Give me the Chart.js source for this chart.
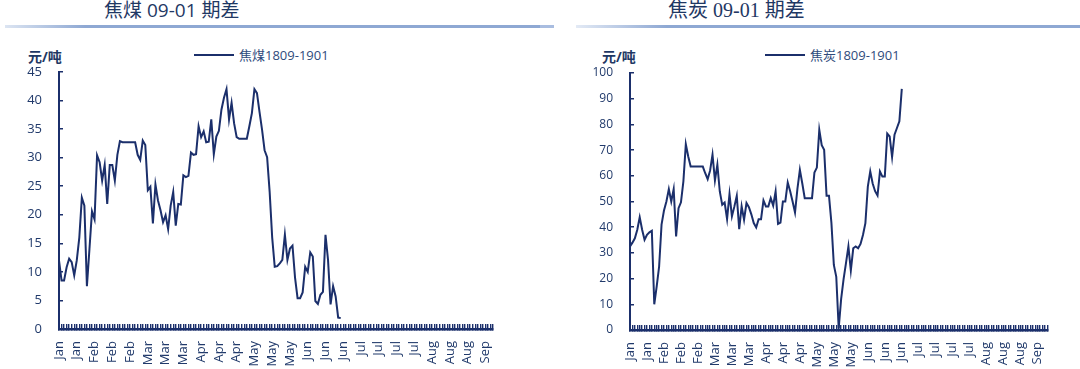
<!DOCTYPE html>
<html>
<head>
<meta charset="utf-8">
<script src="https://cdn.jsdelivr.net/npm/chart.js@4.4.1/dist/chart.umd.min.js"></script>
<style>
  body { margin: 0; background: #fff; width: 1080px; height: 369px; overflow: hidden; position: relative;
         font-family: "Open Sans", "Noto Sans CJK SC", sans-serif; }
  .panel { position: absolute; top: 0; width: 540px; height: 369px; }
  .title { position: absolute; top: 0; font-size: 19px; line-height: 20px; color: #1f3864; white-space: nowrap; }
  .rule { position: absolute; top: 25px; height: 3px; }
  .unit { position: absolute; top: 46px; font-size: 14px; font-weight: bold; color: #1f3864; white-space: nowrap; }
  .legend { position: absolute; top: 46px; font-size: 13px; line-height: 18px; color: #2f4b7c; white-space: nowrap;
            display: flex; align-items: center; }
  .legend i { display: inline-block; width: 40px; height: 2px; background: #1b2f6b; margin-right: 5px; }
  canvas { position: absolute; left: 0; top: 0; }
</style>
</head>
<body>
<div class="panel" style="left:0">
  <div class="title" style="left:104px">焦煤 09-01 期差</div>
  <div class="rule" style="left:5px;width:535px;background:linear-gradient(to right,#dce5f2,#8ea8d3 15%,#8ea8d3)"></div>
  <div class="unit" style="left:28px">元/吨</div>
  <div class="legend" style="left:194px"><i></i>焦煤1809-1901</div>
  <canvas id="coal" width="540" height="369"></canvas>
</div>
<div class="panel" style="left:540px">
  <div class="title" style="left:128px;font-family:'Liberation Serif','Noto Sans CJK SC',serif;font-size:20px">焦炭 09-01 期差</div>
  <div class="rule" style="left:0;width:14px;background:#a9bde0"></div>
  <div class="rule" style="left:36px;width:504px;background:linear-gradient(to right,#e3eaf5,#8ea8d3 18%,#8ea8d3)"></div>
  <div class="unit" style="left:62px">元/吨</div>
  <div class="legend" style="left:225px"><i></i>焦炭1809-1901</div>
  <canvas id="coke" width="540" height="369"></canvas>
</div>
<script>
// month label shown every 7th trading day
const monthTicks = ['Jan','Jan','Feb','Feb','Feb','Mar','Mar','Mar','Apr','Apr','Apr','May','May','May',
                    'Jun','Jun','Jun','Jul','Jul','Jul','Jul','Aug','Aug','Aug','Sep'];
const tickEvery = 7;
const coalDays = 172;
const cokeDays = 173;

// 焦煤1809-1901 spread, yuan/ton
const coalSpread = [12.0, 8.5, 8.5, 10.8, 12.3, 11.7, 9.4, 12.0, 16.0, 23.0,
  21.6, 7.5, 14.0, 20.6, 19.2, 30.4, 29.2, 26.0, 28.7, 21.9,
  28.7, 28.7, 26.0, 30.5, 32.9, 32.7, 32.7, 32.7, 32.7, 32.7,
  32.7, 30.5, 29.6, 33.0, 32.2, 24.3, 24.9, 18.5, 25.3, 22.5,
  20.8, 18.7, 19.9, 17.5, 21.6, 24.0, 18.1, 21.9, 21.8, 26.9,
  26.6, 26.8, 30.9, 30.5, 30.6, 35.5, 33.6, 34.6, 32.7, 32.8,
  36.7, 30.6, 33.7, 34.7, 38.4, 40.5, 42.0, 36.7, 39.6, 36.0,
  33.6, 33.3, 33.3, 33.3, 33.3, 35.5, 37.8, 42.0, 41.3, 38.0,
  34.9, 31.3, 30.1, 24.0, 16.0, 10.9, 11.0, 11.5, 12.1, 16.5,
  12.1, 14.1, 14.6, 9.0, 5.4, 5.4, 6.4, 10.9, 10.0, 13.4,
  12.7, 4.9, 4.4, 6.0, 6.5, 16.5, 12.1, 4.3, 7.5, 5.7,
  2.0, 1.9];

// 焦炭1809-1901 spread, yuan/ton
const cokeSpread = [32.5, 34.0, 35.7, 39.0, 43.9, 39.0, 35.1, 37.0, 38.0, 38.6,
  10.0, 17.0, 24.7, 41.0, 46.5, 50.0, 54.8, 50.0, 54.8, 36.4,
  47.4, 49.7, 57.8, 72.3, 67.5, 63.6, 63.6, 63.6, 63.6, 63.6,
  63.6, 61.0, 58.7, 62.0, 68.2, 58.2, 64.3, 53.9, 48.7, 49.6,
  43.2, 52.9, 44.2, 48.0, 52.2, 39.2, 48.1, 42.9, 49.4, 47.8,
  45.0, 41.6, 39.9, 43.1, 43.1, 50.4, 48.1, 48.1, 51.3, 48.4,
  53.9, 41.3, 41.8, 50.0, 50.0, 57.4, 54.0, 50.0, 45.7, 55.0,
  62.3, 57.0, 51.3, 51.3, 51.3, 51.3, 61.3, 63.2, 77.9, 71.9,
  70.1, 52.2, 52.2, 41.7, 25.3, 20.7, 0.6, 12.0, 19.7, 26.0,
  32.5, 23.2, 31.8, 32.5, 31.8, 33.5, 37.0, 41.6, 55.8, 61.7,
  57.0, 54.0, 52.3, 61.7, 59.7, 59.7, 76.4, 75.3, 67.3, 76.0,
  78.6, 81.2, 93.8];

const navy = '#1b2f6b';
const textNavy = '#213a6b';

function dayLabels(n) {
  const out = [];
  for (let i = 0; i < n; i++) {
    out.push(i % tickEvery === 0 && monthTicks[i / tickEvery] ? monthTicks[i / tickEvery] : '');
  }
  return out;
}

function makeChart(id, label, values, days, yMax, yStep, box, yFontSize) {
  const ctx = document.getElementById(id).getContext('2d');
  return new Chart(ctx, {
    type: 'line',
    data: {
      labels: dayLabels(days),
      datasets: [{
        label: label,
        data: values,
        borderColor: navy,
        borderWidth: 2,
        pointRadius: 0,
        tension: 0,
        fill: false
      }]
    },
    options: {
      responsive: false,
      animation: false,
      devicePixelRatio: 1,
      layout: { padding: { left: 0, right: box.right, top: box.top, bottom: 0 } },
      plugins: { legend: { display: false }, tooltip: { enabled: false } },
      scales: {
        x: {
          offset: false,
          grid: { drawOnChartArea: false, drawTicks: true, tickLength: -5, color: navy, lineWidth: 1.4 },
          border: { display: true, color: navy, width: 2.5 },
          ticks: {
            autoSkip: false, maxRotation: 90, minRotation: 90, padding: 17,
            color: textNavy, font: { family: 'Open Sans', size: 13 }
          },
          afterFit: function (s) { s.height = box.xHeight; }
        },
        y: {
          min: 0, max: yMax,
          grid: { drawOnChartArea: false, drawTicks: true, tickLength: -4, color: navy, lineWidth: 1.5 },
          border: { display: true, color: navy, width: 2 },
          ticks: { stepSize: yStep, padding: 21, color: textNavy, font: { family: 'Open Sans', size: yFontSize } },
          afterFit: function (s) { s.width = box.yWidth; }
        }
      }
    }
  });
}

makeChart('coal', '焦煤1809-1901', coalSpread, coalDays, 45, 5,
  { right: 47, top: 72, xHeight: 40, yWidth: 59 }, 13);
makeChart('coke', '焦炭1809-1901', cokeSpread, cokeDays, 100, 10,
  { right: 16, top: 73, xHeight: 39, yWidth: 90 }, 12);
</script>
</body>
</html>
